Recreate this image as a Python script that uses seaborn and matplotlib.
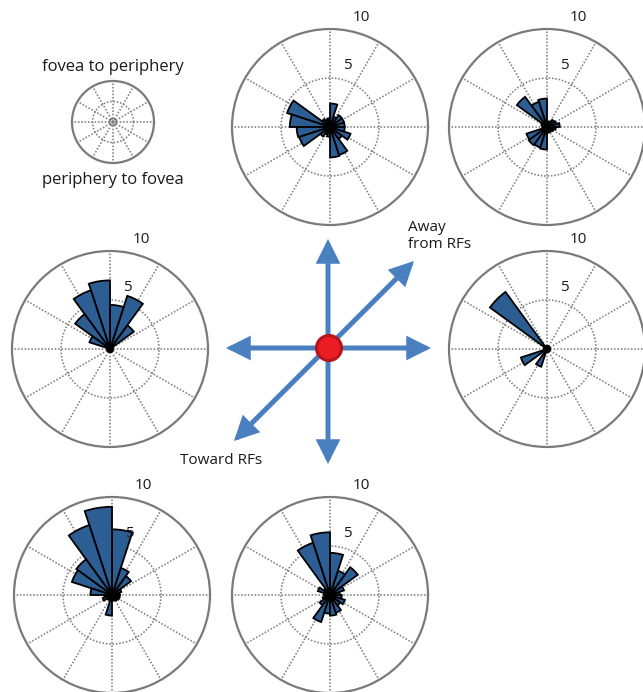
import numpy as np
import matplotlib
matplotlib.use("Agg")
import matplotlib.pyplot as plt
from matplotlib.patches import Circle
import seaborn as sns

# Saccade-direction counts, 20 bins of 18 degrees (bin i spans 18*i .. 18*(i+1) deg)
bin_edges_deg = np.arange(0, 361, 18)

counts_top_mid = [1.5, 1.5, 1.5, 1.1, 2.4, 0.9, 0.8, 1.0, 4.6, 4.1,
                  3.4, 3.3, 1.2, 0.8, 1.0, 3.1, 3.0, 1.5, 2.2, 1.5]
counts_top_right = [1.3, 1.0, 0.9, 0.6, 0.5, 2.9, 2.7, 3.8, 0.6, 0.4,
                    0.5, 2.2, 2.3, 2.2, 2.3, 0.6, 0.5, 0.6, 0.7, 0.9]
counts_mid_left = [0.3, 0.3, 3.0, 5.7, 4.5, 7.0, 6.3, 4.4, 2.2, 0.3,
                   0.3, 0.3, 0.3, 0.3, 0.3, 0.3, 0.3, 0.3, 0.3, 0.3]
counts_mid_right = [0.3, 0.3, 0.3, 0.3, 0.3, 0.3, 0.3, 7.2, 0.3, 0.3,
                    0.3, 2.8, 0.3, 1.9, 0.3, 0.3, 0.3, 0.3, 0.3, 0.3]
counts_bot_left = [0.8, 1.0, 2.4, 2.9, 6.7, 9.0, 7.5, 4.5, 4.3, 2.2,
                   0.8, 1.0, 0.6, 0.5, 2.1, 0.5, 0.6, 0.7, 0.8, 0.8]
counts_bot_mid = [1.0, 1.5, 3.5, 2.6, 4.3, 6.4, 5.6, 0.8, 1.3, 0.6,
                  0.6, 0.8, 1.3, 2.9, 1.9, 2.1, 1.9, 1.3, 1.6, 1.2]

radial_ticks = [5, 10]
direction_labels = ["Away\nfrom RFs", "Toward RFs"]
legend_labels = ["fovea to periphery", "periphery to fovea"]

sns.set_theme(style="white")
plt.rcParams["font.family"] = ["Open Sans", "DejaVu Sans"]

W, H = 643, 692
fig = plt.figure(figsize=(W / 100, H / 100), dpi=100)
fig.patch.set_facecolor("white")

BAR_COLOR = "#2c5d93"
GRID_COLOR = "#7a7a7a"
ARROW_COLOR = "#4a7fc0"
TEXT_COLOR = "#1a1a1a"


def polar_axes(cx, cy, r):
    ax = fig.add_axes([(cx - r) / W, 1 - (cy + r) / H, 2 * r / W, 2 * r / H],
                      projection="polar")
    ax.set_ylim(0, radial_ticks[-1])
    ax.set_thetagrids(np.arange(0, 360, 30), labels=[])
    ax.set_rgrids([radial_ticks[0]], labels=[])
    ax.grid(True, color="#808080", linestyle=(0, (1, 1.1)), linewidth=1.15)
    ax.spines["polar"].set_color(GRID_COLOR)
    ax.spines["polar"].set_linewidth(1.6)
    ax.set_facecolor("white")
    ax.tick_params(pad=0)
    return ax


def rose(cx, cy, counts):
    ax = polar_axes(cx, cy, 98)
    centers = np.deg2rad(bin_edges_deg[:-1] + 9)
    ax.bar(centers, counts, width=np.deg2rad(18), bottom=0,
           color=BAR_COLOR, edgecolor="black", linewidth=1.3, zorder=3)
    for rv, rr in zip(radial_ticks, [6.5, 11.6]):
        ax.text(np.deg2rad(74), rr, str(rv), ha="center", va="center",
                fontsize=11, color=TEXT_COLOR, clip_on=False)
    return ax


rose(330, 127, counts_top_mid)
rose(547, 127, counts_top_right)
rose(110, 349, counts_mid_left)
rose(547, 349, counts_mid_right)
rose(112, 595, counts_bot_left)
rose(330, 595, counts_bot_mid)

# small key dial
key = polar_axes(113, 122, 41)
key.plot(np.linspace(0, 2 * np.pi, 60), np.full(60, 0.8), color=GRID_COLOR, lw=1.0)

# overlay in pixel coordinates for arrows and labels
ov = fig.add_axes([0, 0, 1, 1], zorder=5)
ov.set_xlim(0, W)
ov.set_ylim(H, 0)
ov.axis("off")
ov.patch.set_alpha(0)

arrow_style = "<|-|>,head_length=1.2,head_width=0.6"
for (x0, y0), (x1, y1) in [((328, 239), (328, 464)),
                           ((226, 348), (431, 348)),
                           ((234, 441), (414, 261))]:
    ov.annotate("", xy=(x1, y1), xytext=(x0, y0),
                arrowprops=dict(arrowstyle=arrow_style, color=ARROW_COLOR,
                                lw=3.6, mutation_scale=10, shrinkA=0, shrinkB=0,
                                joinstyle="miter"))
ov.add_patch(Circle((329, 348), 12.5, facecolor="#ec1c24", edgecolor="#b8121b",
                    lw=2.2, zorder=6))

ov.text(408, 236, direction_labels[0], ha="left", va="center", fontsize=11,
        color=TEXT_COLOR, linespacing=1.15)
ov.text(180, 461, direction_labels[1], ha="left", va="center", fontsize=11,
        color=TEXT_COLOR)
ov.text(113, 67, legend_labels[0], ha="center", va="center", fontsize=12,
        color=TEXT_COLOR)
ov.text(113, 180, legend_labels[1], ha="center", va="center", fontsize=12,
        color=TEXT_COLOR)

fig.savefig("out.png", dpi=100)
